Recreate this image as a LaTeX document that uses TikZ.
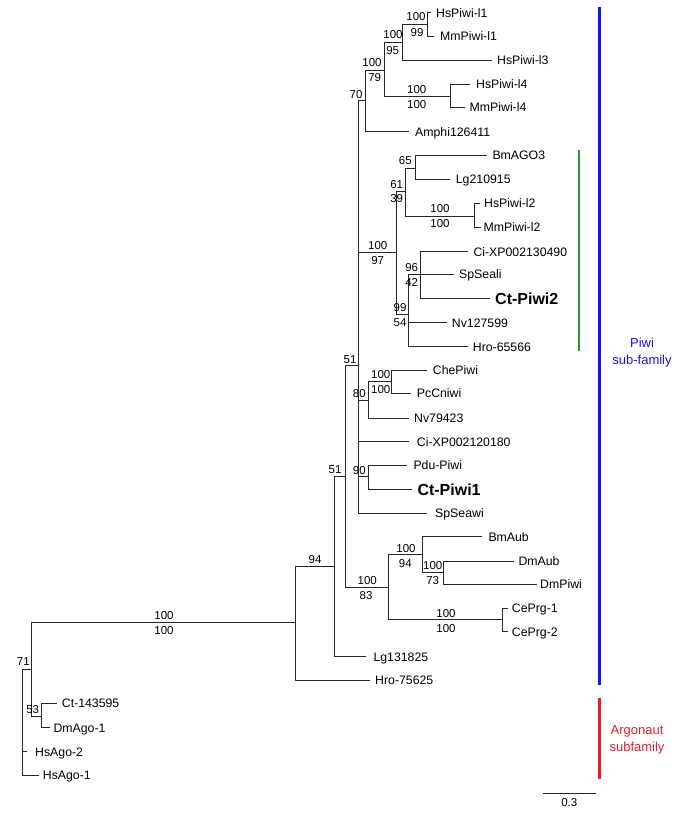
\documentclass[tikz,border=0pt]{standalone}
\usepackage{fontspec}
\setmainfont{Liberation Sans}
\newcommand\tedge[2]{\draw[br] (#1 |- #2) -- (#2);}
\newcommand\tvert[3]{\draw[br] (#1 |- #2) -- (#1 |- #3);}
\begin{document}
\begin{tikzpicture}[x=1pt,y=-1pt,
  br/.style={line width=0.9pt, draw=black!85, line cap=rect},
  leaf/.style={anchor=west, inner sep=0pt, font=\fontsize{12.3}{14}\selectfont, text height=8.8pt, text depth=0pt},
  bleaf/.style={leaf, font=\fontsize{16}{18}\selectfont\bfseries, text height=11.5pt},
  sup/.style={inner sep=0pt, font=\fontsize{11.5}{13}\selectfont, text height=8.2pt, text depth=0pt},
  bar/.style={line width=2.4pt},
  fam/.style={align=center, inner sep=0pt, font=\fontsize{13}{17}\selectfont}]
\useasboundingbox (0,0) rectangle (685,815);
% internal nodes
\coordinate (R0) at (22.7,669.3);
\coordinate (R1) at (31.7,669.3);
\coordinate (N53) at (41,716);
\coordinate (P) at (295.7,622.7);
\coordinate (Q) at (334.3,566.7);
\coordinate (S) at (345,476.7);
\coordinate (U) at (358.3,365);
\coordinate (E) at (365.7,100);
\coordinate (C) at (384,70);
\coordinate (B) at (402.7,42.7);
\coordinate (A) at (427.7,24);
\coordinate (D) at (450.7,96);
\coordinate (G) at (396.7,252.7);
\coordinate (H) at (405.7,191.7);
\coordinate (I) at (415,168.3);
\coordinate (J) at (474.3,216);
\coordinate (K) at (408.3,314.3);
\coordinate (L) at (420.7,274.5);
\coordinate (V) at (368.8,400);
\coordinate (W) at (391.7,381.7);
\coordinate (X) at (368.3,476.7);
\coordinate (T) at (388.3,587.7);
\coordinate (Y) at (422.7,554);
\coordinate (Z) at (443.3,572.7);
\coordinate (M) at (502.7,619.3);
% tips
\coordinate (t1) at (430.7,12.7);
\coordinate (t2) at (434,36);
\coordinate (t3) at (491.7,60.3);
\coordinate (t4) at (470,84);
\coordinate (t5) at (465,107.3);
\coordinate (t6) at (408.3,131.7);
\coordinate (t7) at (486.7,155);
\coordinate (t8) at (450,179.3);
\coordinate (t9) at (479.3,203.3);
\coordinate (t10) at (481,227.3);
\coordinate (t11) at (467.7,251.7);
\coordinate (t12) at (453.3,274.5);
\coordinate (t13) at (490,298.3);
\coordinate (t14) at (446.7,322.7);
\coordinate (t15) at (467.7,346.7);
\coordinate (t16) at (426.7,370);
\coordinate (t17) at (411,393.3);
\coordinate (t18) at (408.3,418.3);
\coordinate (t19) at (409,441.7);
\coordinate (t20) at (406.7,465);
\coordinate (t21) at (411.7,489.3);
\coordinate (t22) at (426.7,513.3);
\coordinate (t23) at (481.7,536.7);
\coordinate (t24) at (513.3,561);
\coordinate (t25) at (536.7,584.3);
\coordinate (t26) at (507.7,608.3);
\coordinate (t27) at (507.7,631.7);
\coordinate (t28) at (366,656.7);
\coordinate (t29) at (370,680);
\coordinate (t30) at (56.7,703.3);
\coordinate (t31) at (50,727.7);
\coordinate (t32) at (26.7,751.7);
\coordinate (t33) at (38.3,775);
% branches
\tvert{R0}{R1}{t33} \tedge{R0}{R1} \tedge{R0}{t32} \tedge{R0}{t33}
\tvert{R1}{P}{N53} \tedge{R1}{P} \tedge{R1}{N53}
\tvert{N53}{t30}{t31} \tedge{N53}{t30} \tedge{N53}{t31}
\tvert{P}{Q}{t29} \tedge{P}{Q} \tedge{P}{t29}
\tvert{Q}{S}{t28} \tedge{Q}{S} \tedge{Q}{t28}
\tvert{S}{U}{T} \tedge{S}{U} \tedge{S}{T}
\tvert{U}{E}{t22} \tedge{U}{E} \tedge{U}{G} \tedge{U}{V} \tedge{U}{t19} \tedge{U}{X} \tedge{U}{t22}
\tvert{E}{C}{t6} \tedge{E}{C} \tedge{E}{t6}
\tvert{C}{B}{D} \tedge{C}{B} \tedge{C}{D}
\tvert{B}{A}{t3} \tedge{B}{A} \tedge{B}{t3}
\tvert{A}{t1}{t2} \tedge{A}{t1} \tedge{A}{t2}
\tvert{D}{t4}{t5} \tedge{D}{t4} \tedge{D}{t5}
\tvert{G}{H}{K} \tedge{G}{H} \tedge{G}{K}
\tvert{H}{I}{J} \tedge{H}{I} \tedge{H}{J}
\tvert{I}{t7}{t8} \tedge{I}{t7} \tedge{I}{t8}
\tvert{J}{t9}{t10} \tedge{J}{t9} \tedge{J}{t10}
\tvert{K}{L}{t15} \tedge{K}{L} \tedge{K}{t14} \tedge{K}{t15}
\tvert{L}{t11}{t13} \tedge{L}{t11} \tedge{L}{t12} \tedge{L}{t13}
\tvert{V}{W}{t18} \tedge{V}{W} \tedge{V}{t18}
\tvert{W}{t16}{t17} \tedge{W}{t16} \tedge{W}{t17}
\tvert{X}{t20}{t21} \tedge{X}{t20} \tedge{X}{t21}
\tvert{T}{Y}{M} \tedge{T}{Y} \tedge{T}{M}
\tvert{Y}{t23}{Z} \tedge{Y}{t23} \tedge{Y}{Z}
\tvert{Z}{t24}{t25} \tedge{Z}{t24} \tedge{Z}{t25}
\tvert{M}{t26}{t27} \tedge{M}{t26} \tedge{M}{t27}
% leaf labels
\node[leaf] (l1) at (436,12.7) {HsPiwi-l1};
\node[leaf] (l2) at (440,36) {MmPiwi-l1};
\node[leaf] (l3) at (497,60.3) {HsPiwi-l3};
\node[leaf] (l4) at (476,84) {HsPiwi-l4};
\node[leaf] (l5) at (469.5,107.3) {MmPiwi-l4};
\node[leaf] (l6) at (415,131.7) {Amphi126411};
\node[leaf] (l7) at (492.3,155) {BmAGO3};
\node[leaf] (l8) at (455.7,179.3) {Lg210915};
\node[leaf] (l9) at (484,203.3) {HsPiwi-l2};
\node[leaf] (l10) at (483.5,227.3) {MmPiwi-l2};
\node[leaf] (l11) at (473.3,251.7) {Ci-XP002130490};
\node[leaf] (l12) at (459,274.5) {SpSeali};
\node[bleaf] (l13) at (495,298.3) {Ct-Piwi2};
\node[leaf] (l14) at (451.7,322.7) {Nv127599};
\node[leaf] (l15) at (472.7,346.7) {Hro-65566};
\node[leaf] (l16) at (432.7,370) {ChePiwi};
\node[leaf] (l17) at (416.7,393.3) {PcCniwi};
\node[leaf] (l18) at (414,418.3) {Nv79423};
\node[leaf] (l19) at (416.7,441.7) {Ci-XP002120180};
\node[leaf] (l20) at (413.3,465) {Pdu-Piwi};
\node[bleaf] (l21) at (417.3,489.3) {Ct-Piwi1};
\node[leaf] (l22) at (435,513.3) {SpSeawi};
\node[leaf] (l23) at (488.3,536.7) {BmAub};
\node[leaf] (l24) at (518.3,561) {DmAub};
\node[leaf] (l25) at (540,584.3) {DmPiwi};
\node[leaf] (l26) at (511.7,608.3) {CePrg-1};
\node[leaf] (l27) at (511.7,631.7) {CePrg-2};
\node[leaf] (l28) at (373.3,656.7) {Lg131825};
\node[leaf] (l29) at (375,680) {Hro-75625};
\node[leaf] (l30) at (61.7,703.3) {Ct-143595};
\node[leaf] (l31) at (53.3,727.7) {DmAgo-1};
\node[leaf] (l32) at (35,751.7) {HsAgo-2};
\node[leaf] (l33) at (42.7,775) {HsAgo-1};
% support values
\node[sup] (sA1) at (416,16.7) {100};
\node[sup] (sA2) at (417,32.7) {99};
\node[sup] (sB1) at (393,34.7) {100};
\node[sup] (sB2) at (392.7,50.7) {95};
\node[sup] (sC1) at (372,62) {100};
\node[sup] (sC2) at (374.7,77.3) {79};
\node[sup] (sD1) at (416.7,89.3) {100};
\node[sup] (sD2) at (416.7,104) {100};
\node[sup] (sE1) at (356,94.3) {70};
\node[sup] (sI1) at (405.3,160.7) {65};
\node[sup] (sH1) at (396.7,184.3) {61};
\node[sup] (sH2) at (396.7,198.7) {39};
\node[sup] (sJ1) at (440,208.7) {100};
\node[sup] (sJ2) at (440,223.3) {100};
\node[sup] (sG1) at (377.7,245) {100};
\node[sup] (sG2) at (377.7,260.7) {97};
\node[sup] (sL1) at (411.7,267.3) {96};
\node[sup] (sL2) at (411.7,282.7) {42};
\node[sup] (sK1) at (400,307.3) {99};
\node[sup] (sK2) at (400,322.3) {54};
\node[sup] (sU1) at (350,359.3) {51};
\node[sup] (sW1) at (380.7,374) {100};
\node[sup] (sW2) at (380.7,389.3) {100};
\node[sup] (sV1) at (359.3,393.3) {80};
\node[sup] (sX1) at (359.3,470) {90};
\node[sup] (sS1) at (335,469.3) {51};
\node[sup] (sT1) at (367.3,580.7) {100};
\node[sup] (sT2) at (366,595.7) {83};
\node[sup] (sY1) at (406,548.3) {100};
\node[sup] (sY2) at (405.3,563.3) {94};
\node[sup] (sZ1) at (432.7,565) {100};
\node[sup] (sZ2) at (432.7,580) {73};
\node[sup] (sM1) at (446,613.3) {100};
\node[sup] (sM2) at (446,628.3) {100};
\node[sup] (sQ1) at (315,559.3) {94};
\node[sup] (sP1) at (164,615) {100};
\node[sup] (sP2) at (164,630.7) {100};
\node[sup] (sR1) at (23.3,661.7) {71};
\node[sup] (sN1) at (32.7,709.3) {53};
% family bars
\coordinate (gTop) at (579,150);
\coordinate (gBot) at (579,350.7);
\coordinate (bTop) at (599.3,7.3);
\coordinate (bBot) at (599.3,685);
\coordinate (rTop) at (599.3,698.3);
\coordinate (rBot) at (599.3,779);
\draw[bar, draw={rgb,255:red,40;green,150;blue,40}] (gTop) -- (gBot);
\draw[bar, draw={rgb,255:red,20;green,20;blue,230}] (bTop) -- (bBot);
\draw[bar, draw={rgb,255:red,230;green,30;blue,40}] (rTop) -- (rBot);
\node[fam, text={rgb,255:red,20;green,20;blue,230}] (piwi) at (642,352.8) {Piwi\\sub-family};
\node[fam, text={rgb,255:red,230;green,30;blue,40}] (argo) at (637,740) {Argonaut\\subfamily};
% scale bar
\coordinate (s0) at (542.7,793.3);
\coordinate (s1) at (596,793.3);
\draw[line width=0.9pt, draw=black!85] (s0) -- (s1);
\node[sup] (scale) at (569.3,802.7) {0.3};
\end{tikzpicture}
\end{document}
